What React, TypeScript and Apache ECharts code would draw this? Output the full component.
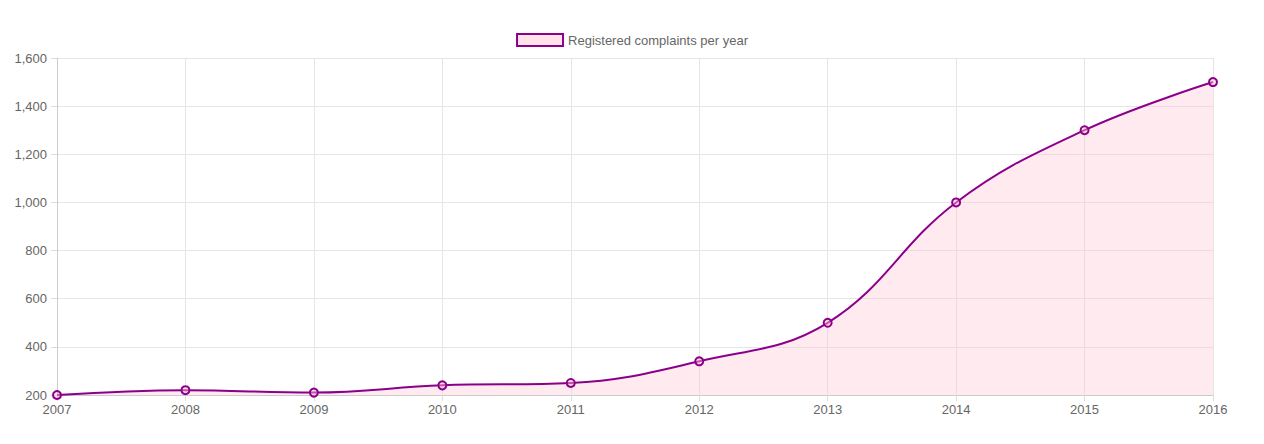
import { useEffect, useRef } from 'react';
import * as echarts from 'echarts';

const years = ['2007', '2008', '2009', '2010', '2011', '2012', '2013', '2014', '2015', '2016'];
const complaints = [200, 220, 210, 240, 250, 340, 500, 1000, 1300, 1500];
const seriesName = 'Registered complaints per year';

const App: React.FC = () => {
    const chartRef = useRef<HTMLDivElement | null>(null);

    useEffect(() => {
        if (!chartRef.current) return;
        const chart = echarts.init(chartRef.current, undefined, { renderer: 'svg' });
        const font = 'Helvetica, Arial, "Liberation Sans", sans-serif';
        chart.setOption({
            animation: false,
            textStyle: { fontFamily: font },
            legend: {
                top: 20,
                itemWidth: 46,
                itemHeight: 12,
                textStyle: { color: '#666', fontSize: 13, fontFamily: font },
                data: [{
                    name: seriesName,
                    icon: 'rect',
                    itemStyle: { color: 'rgba(255,192,203,0.45)', borderColor: '#8b008b', borderWidth: 2 },
                }],
            },
            grid: { left: 49, right: 43, top: 50, bottom: 41 },
            xAxis: {
                type: 'category',
                data: years,
                boundaryGap: false,
                axisLine: { lineStyle: { color: '#ccc' } },
                axisTick: { show: true, length: 6, lineStyle: { color: '#ddd' } },
                axisLabel: { color: '#666', fontSize: 13, margin: 8 },
                splitLine: { show: true, lineStyle: { color: '#e6e6e6' } },
            },
            yAxis: {
                type: 'value',
                min: 200,
                max: 1600,
                interval: 200,
                axisLine: { show: true, lineStyle: { color: '#ccc' } },
                axisTick: { show: true, length: 6, lineStyle: { color: '#ddd' } },
                axisLabel: { color: '#666', fontSize: 13, margin: 10 },
                splitLine: { lineStyle: { color: '#e6e6e6' } },
            },
            series: [{
                name: seriesName,
                type: 'line',
                data: complaints,
                smooth: 0.4,
                symbol: 'circle',
                symbolSize: 8,
                lineStyle: { color: '#8b008b', width: 2 },
                itemStyle: { color: 'rgba(255,192,203,0.45)', borderColor: '#8b008b', borderWidth: 2 },
                areaStyle: { color: 'rgba(255,192,203,0.45)' },
            }],
        });
        return () => chart.dispose();
    }, []);

    return <div ref={chartRef} style={{ width: 1248, height: 428 }} />;
};

export default App;
